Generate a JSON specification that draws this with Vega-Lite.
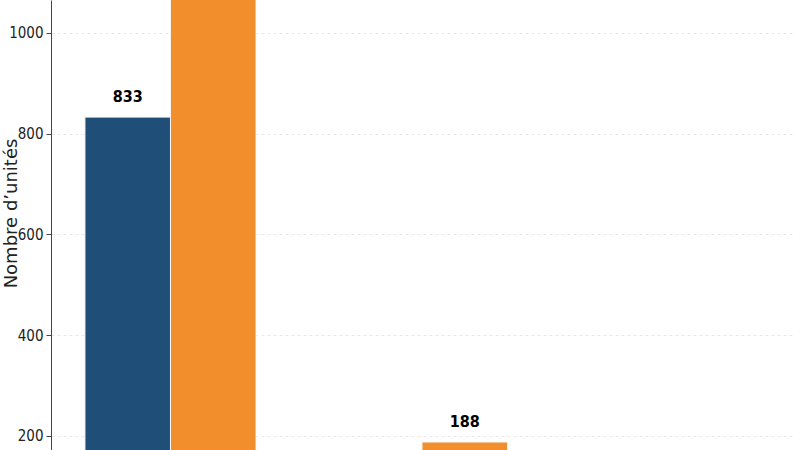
{
  "$schema": "https://vega.github.io/schema/vega-lite/v6.json",
  "autosize": "none",
  "padding": {"left": 51, "top": 0, "right": 7, "bottom": 0},
  "width": 742,
  "height": 450,
  "background": "white",
  "data": {
    "values": [
      {"categorie": "Groupe A", "serie": "Série 1", "valeur": 833},
      {"categorie": "Groupe A", "serie": "Série 2", "valeur": 1130},
      {"categorie": "Groupe B", "serie": "Série 1", "valeur": 90},
      {"categorie": "Groupe B", "serie": "Série 2", "valeur": 188},
      {"categorie": "Groupe C", "serie": "Série 1", "valeur": 70},
      {"categorie": "Groupe C", "serie": "Série 2", "valeur": 80}
    ]
  },
  "config": {
    "view": {"stroke": null},
    "axis": {"labelFont": "Liberation Sans Narrow, DejaVu Sans Condensed, sans-serif", "titleFont": "DejaVu Sans"}
  },
  "encoding": {
    "x": {
      "field": "categorie",
      "type": "nominal",
      "scale": {"paddingInner": 0.32, "paddingOuter": 0.135},
      "axis": null
    },
    "xOffset": {"field": "serie", "type": "nominal", "scale": {"domain": ["Série 1", "Série 2"]}},
    "y": {
      "field": "valeur",
      "type": "quantitative",
      "scale": {"domain": [172.2, 1065.5], "nice": false, "zero": false},
      "axis": {
        "title": "Nombre d’unités",
        "titleFontSize": 18,
        "titleFontWeight": "normal",
        "titleColor": "#222222",
        "titleX": -40,
        "titleY": 213,
        "titleAngle": -90,
        "titleBaseline": "middle",
        "values": [200, 400, 600, 800, 1000],
        "format": "d",
        "labelFontSize": 15,
        "labelColor": "#222222",
        "labelPadding": 3,
        "tickSize": 5,
        "tickColor": "#444444",
        "domainColor": "#444444",
        "grid": true,
        "gridColor": "#e2e2e2",
        "gridDash": [3, 3],
        "gridWidth": 0.8
      }
    }
  },
  "layer": [
    {
      "mark": {"type": "bar", "clip": true, "stroke": "#f4f4f4", "strokeWidth": 1},
      "encoding": {
        "color": {
          "field": "serie",
          "type": "nominal",
          "scale": {"domain": ["Série 1", "Série 2"], "range": ["#1f4e79", "#f28e2b"]},
          "legend": null
        }
      }
    },
    {
      "transform": [{"filter": "datum.valeur > 172 && datum.valeur < 1030"}],
      "mark": {
        "type": "text",
        "clip": true,
        "dy": -20,
        "baseline": "middle",
        "font": "Liberation Sans Narrow, DejaVu Sans Condensed, sans-serif",
        "fontWeight": "bold",
        "fontSize": 16,
        "color": "black"
      },
      "encoding": {"text": {"field": "valeur", "type": "quantitative"}}
    }
  ]
}
